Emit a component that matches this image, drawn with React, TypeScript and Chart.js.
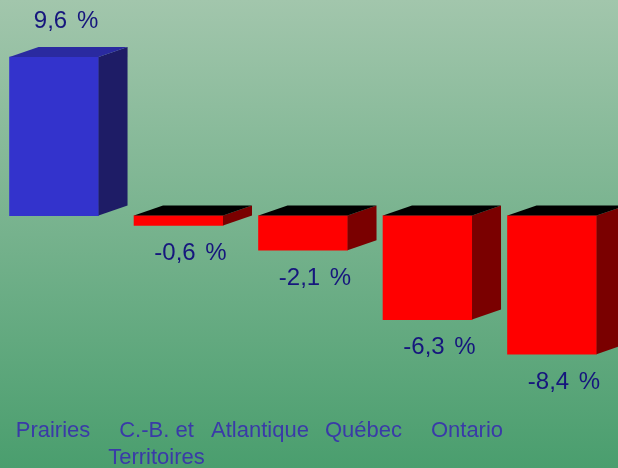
import React, { useEffect, useRef } from "react";
import { Chart, registerables } from "chart.js";

Chart.register(...registerables);

const categories: (string | string[])[] = [
  "Prairies",
  ["C.-B. et", "Territoires"],
  "Atlantique",
  "Québec",
  "Ontario",
];
const values: number[] = [9.6, -0.6, -2.1, -6.3, -8.4];
const valueLabels: string[] = ["9,6 %", "-0,6 %", "-2,1 %", "-6,3 %", "-8,4 %"];

const FRONT_POS = "#3333CC";
const SIDE_POS = "#1E1C66";
const TOP_POS = "#2A2AA0";
const FRONT_NEG = "#FF0000";
const SIDE_NEG = "#7A0000";
const TOP_NEG = "#000000";

const DX = 29;
const DY = 10;

const threeD = {
  id: "threeD",
  afterDatasetsDraw(chart: any) {
    const ctx = chart.ctx;
    const meta = chart.getDatasetMeta(0);
    meta.data.forEach((bar: any, i: number) => {
      const p = bar.getProps(["x", "y", "base", "width"], true);
      const left = p.x - p.width / 2;
      const right = p.x + p.width / 2;
      const top = Math.min(p.y, p.base);
      const bottom = Math.max(p.y, p.base);
      const pos = values[i] >= 0;
      ctx.save();
      ctx.fillStyle = pos ? SIDE_POS : SIDE_NEG;
      ctx.beginPath();
      ctx.moveTo(right, top);
      ctx.lineTo(right + DX, top - DY);
      ctx.lineTo(right + DX, bottom - DY);
      ctx.lineTo(right, bottom);
      ctx.closePath();
      ctx.fill();
      ctx.fillStyle = pos ? TOP_POS : TOP_NEG;
      ctx.beginPath();
      ctx.moveTo(left, top);
      ctx.lineTo(left + DX, top - DY);
      ctx.lineTo(right + DX, top - DY);
      ctx.lineTo(right, top);
      ctx.closePath();
      ctx.fill();
      ctx.fillStyle = "#16167D";
      ctx.font = "24px 'Liberation Sans', Arial, sans-serif";
      (ctx as any).wordSpacing = "3px";
      ctx.textAlign = "center";
      ctx.textBaseline = "middle";
      const ly = pos ? top - 36 : bottom + 28;
      ctx.fillText(valueLabels[i], p.x + 12, ly);
      ctx.restore();
    });
  },
};

export default function App() {
  const ref = useRef<HTMLCanvasElement | null>(null);
  useEffect(() => {
    if (!ref.current) return;
    const chart = new Chart(ref.current, {
      type: "bar",
      data: {
        datasets: [
          {
            data: values.map((v, i) => ({ x: i, y: v })),
            backgroundColor: values.map((v) => (v >= 0 ? FRONT_POS : FRONT_NEG)),
            borderWidth: 0,
            barThickness: 89,
          },
        ],
      },
      options: {
        responsive: false,
        animation: false,
        events: [],
        layout: { padding: 0 },
        plugins: { legend: { display: false }, tooltip: { enabled: false } },
        scales: {
          x: {
            type: "linear",
            display: false,
            offset: false,
            min: -0.434,
            max: 4.53,
          },
          x2: {
            type: "linear",
            position: "bottom",
            offset: false,
            min: -0.512,
            max: 5.459,
            grid: { display: false, drawTicks: false, offset: false },
            border: { display: false },
            afterBuildTicks: (scale: any) => {
              scale.ticks = categories.map((_, i) => ({ value: i }));
            },
            afterFit: (scale: any) => {
              scale.height = 54;
            },
            ticks: {
              autoSkip: false,
              maxRotation: 0,
              padding: 3,
              color: "#3A3AA8",
              font: { family: "'Liberation Sans', Arial, sans-serif", size: 22, lineHeight: 1.25 },
              callback: (v: any) => categories[Math.round(Number(v))] as any,
            },
          },
          y: {
            display: false,
            min: -12.02,
            max: 13.06,
          },
        },
      },
      plugins: [threeD],
    });
    return () => chart.destroy();
  }, []);
  return (
    <div
      style={{
        position: "fixed",
        left: 0,
        top: 0,
        width: 618,
        height: 468,
        background: "linear-gradient(to bottom, #A2C6AC 0%, #4A9E6E 100%)",
      }}
    >
      <canvas ref={ref} width={618} height={468} style={{ display: "block", width: 618, height: 468 }} />
    </div>
  );
}
